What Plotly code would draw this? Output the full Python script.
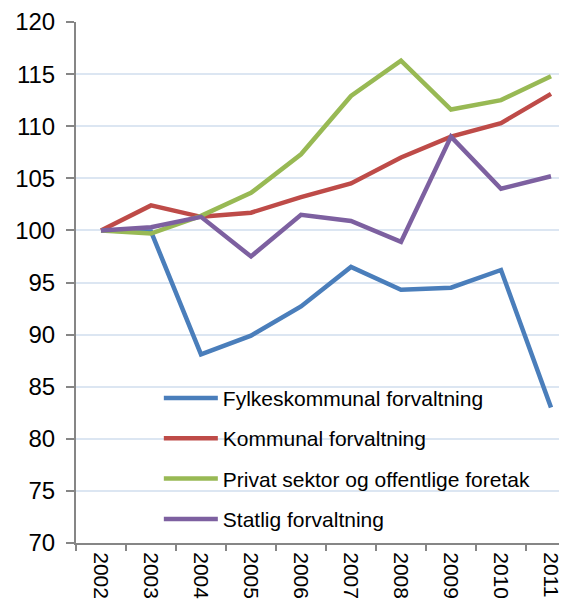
import plotly.graph_objects as go

years = ["2002", "2003", "2004", "2005", "2006", "2007", "2008", "2009", "2010", "2011"]
fylkeskommunal = [100, 99.9, 88.1, 89.9, 92.7, 96.5, 94.3, 94.5, 96.2, 83.0]
kommunal = [100, 102.4, 101.3, 101.7, 103.2, 104.5, 107.0, 109.0, 110.3, 113.1]
privat = [100, 99.7, 101.4, 103.6, 107.3, 112.9, 116.3, 111.6, 112.5, 114.8]
statlig = [100, 100.3, 101.3, 97.5, 101.5, 100.9, 98.9, 109.0, 104.0, 105.2]

series = [
    ("Fylkeskommunal forvaltning", fylkeskommunal, "#4a7ebb"),
    ("Kommunal forvaltning", kommunal, "#be4b48"),
    ("Privat sektor og offentlige foretak", privat, "#98b954"),
    ("Statlig forvaltning", statlig, "#7d60a0"),
]

fig = go.Figure()
for i, (name, vals, col) in enumerate(series):
    fig.add_trace(go.Scatter(
        x=years, y=vals, name=name, mode="lines",
        line=dict(color=col, width=4.5), legendgroup=f"g{i}",
    ))

axis_col = "#868686"
fig.update_layout(
    width=567, height=600,
    margin=dict(l=68, r=0, t=14, b=65, autoexpand=False),
    paper_bgcolor="white", plot_bgcolor="white",
    font=dict(family="Liberation Sans, Arial, sans-serif", color="black"),
    showlegend=True,
    legend=dict(
        x=0.166, y=0.317, xanchor="left", yanchor="top",
        font=dict(size=21), bgcolor="rgba(0,0,0,0)", tracegroupgap=10,
        itemwidth=54,
    ),
    xaxis=dict(
        type="category", range=[-0.5, 9.48], tickson="boundaries",
        showgrid=False, showline=True, linecolor=axis_col, linewidth=2,
        ticks="outside", ticklen=6, tickcolor=axis_col, tickwidth=1.5,
        tickangle=90, tickfont=dict(size=21), ticklabelstandoff=3,
    ),
    yaxis=dict(
        range=[70, 120], tickvals=list(range(70, 121, 5)),
        showgrid=True, gridcolor="#dce6f2", gridwidth=1.5,
        showline=True, linecolor=axis_col, linewidth=2,
        ticks="outside", ticklen=8, tickcolor=axis_col, tickwidth=1.5,
        tickfont=dict(size=24), zeroline=False, ticklabelstandoff=6,
    ),
)

fig.write_html("out.html")
